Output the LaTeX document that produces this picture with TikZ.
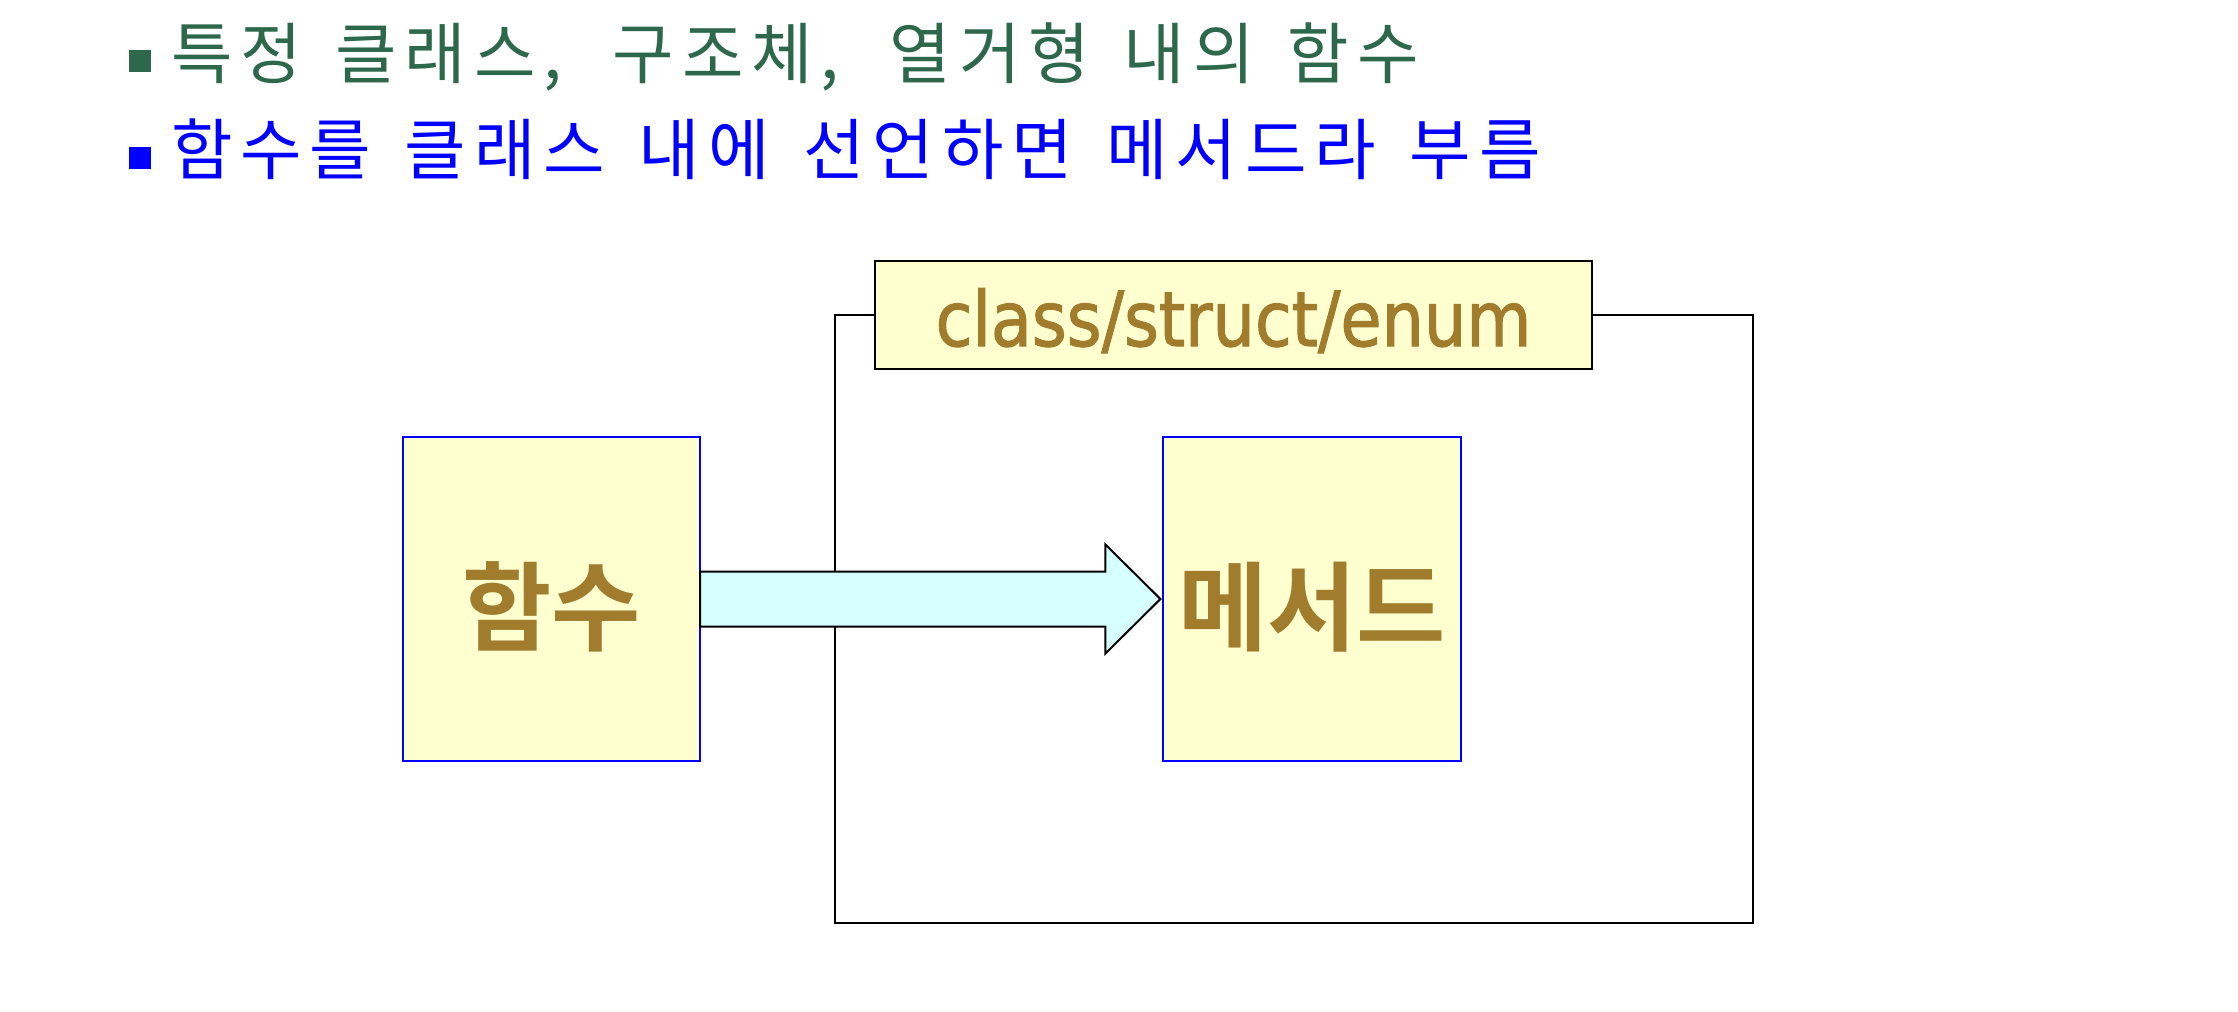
\documentclass[tikz,border=0pt]{standalone}
\usepackage{fontspec}
\newfontfamily\kr[BoldFont={Noto Sans CJK KR Bold}]{Noto Sans CJK KR}
\newfontfamily\krline[LetterSpace=12]{Noto Sans CJK KR}
\newfontfamily\tah[FakeStretch=0.88,FakeBold=1.5]{DejaVu Sans}
\usetikzlibrary{calc}
\definecolor{bgreen}{RGB}{45,104,76}
\definecolor{bblue}{RGB}{0,0,255}
\definecolor{boxfill}{RGB}{255,255,208}
\definecolor{arrowfill}{RGB}{214,255,255}
\definecolor{gold}{RGB}{160,124,44}
\newcommand\widewordspace{\spaceskip=0.5em\relax\sfcode`\,=2001\relax\xspaceskip=0.75em\relax}
\begin{document}
\begin{tikzpicture}[x=0.01cm,y=-0.01cm,
  bulletbox/.style={rectangle, inner sep=0pt, outer sep=0pt, minimum size=0.22cm},
  linetext/.style={anchor=base west, inner sep=0pt, outer sep=0pt,
    font=\krline\fontsize{19}{22}\selectfont, execute at begin node=\widewordspace},
  framebox/.style={rectangle, draw=black, line width=0.57pt, inner sep=0pt, outer sep=0pt,
    minimum width=9.18cm, minimum height=6.08cm},
  classbox/.style={rectangle, draw=black, fill=boxfill, line width=0.57pt, inner sep=0pt, outer sep=0pt,
    minimum width=7.17cm, minimum height=1.08cm, text=gold,
    font=\tah\fontsize{21.6}{24}\selectfont, text height=0.70cm, text depth=0.08cm},
  keybox/.style={rectangle, draw=bblue, fill=boxfill, line width=0.57pt, inner sep=0pt, outer sep=0pt,
    minimum width=2.97cm, minimum height=3.24cm, text=gold,
    font=\kr\bfseries\fontsize{27.6}{30}\selectfont, text height=0.92cm, text depth=0.04cm},
  blockarrow/.style={draw=black, fill=arrowfill, line width=0.57pt, line join=miter}
]
\fill[white] (0,0) rectangle (2238,1012);
\useasboundingbox (0,0) rectangle (2238,1012);

\node[bulletbox, fill=bgreen] (b1) at (140,61) {};
\node[linetext, text=bgreen] (t1) at (171,78) {특정 클래스, 구조체, 열거형 내의 함수};
\node[bulletbox, fill=bblue] (b2) at (140,158) {};
\node[linetext, text=bblue] (t2) at (171,174) {함수를 클래스 내에 선언하면 메서드라 부름};

\node[framebox] (frame) at (1294,619) {};
\node[classbox] (cls) at (1233.5,315) {class/struct/enum};

\node[keybox] (func) at (551.5,599) {함수};
\node[keybox] (method) at (1312,599) {메서드};

\draw[blockarrow] ($(func.east)+(0,-27.5)$) -- ($(method.west)+(-58,-27.5)$)
  -- ($(method.west)+(-58,-54.5)$) -- ($(method.west)+(-3,0)$)
  -- ($(method.west)+(-58,54.5)$) -- ($(method.west)+(-58,27.5)$)
  -- ($(func.east)+(0,27.5)$) -- cycle;
\end{tikzpicture}
\end{document}
